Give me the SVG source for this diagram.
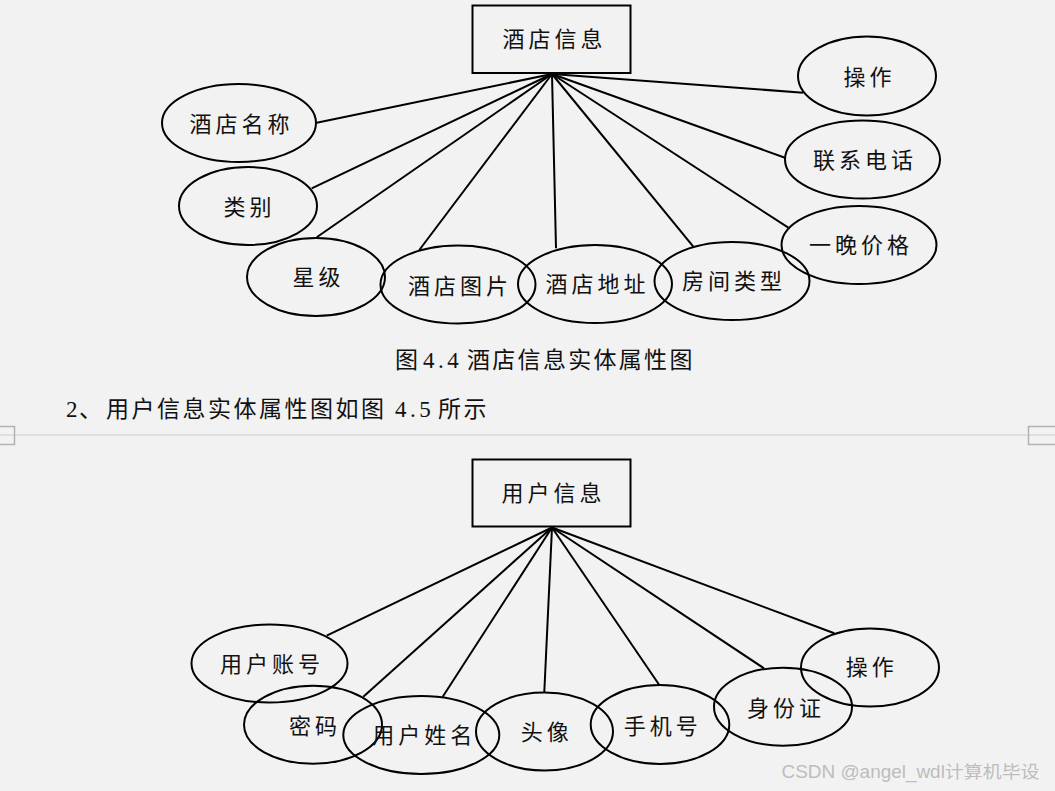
<svg xmlns="http://www.w3.org/2000/svg" width="1055" height="791" viewBox="0 0 1055 791">
<style>
.bg{fill:#f2f2f2}
.ent{fill:none;stroke:#000;stroke-width:2}
.att{fill:none;stroke:#000;stroke-width:2}
.lbl{font-family:"Noto Sans CJK SC","Noto Sans CJK JP",sans-serif;font-size:22px;letter-spacing:4px;text-anchor:middle;fill:#111}
.cap{font-family:"Liberation Serif","Noto Sans CJK SC",serif;font-size:23px;fill:#111}
.cjk{font-family:"Noto Sans CJK SC",sans-serif}
.conn line{stroke:#000;stroke-width:2}
.wm{font-family:"Liberation Sans","Noto Sans CJK SC",sans-serif;font-size:17.5px;fill:#bdbdbd}
</style>
<rect class="bg" x="0" y="0" width="1055" height="791"/>

<!-- page separator -->
<g id="separator">
<line x1="0" y1="435" x2="1055" y2="435" stroke="#d9d9d9" stroke-width="1.5"/>
<path d="M0 426.5 H14.5 V444.5 H0" fill="none" stroke="#b2b2b2" stroke-width="1.5"/>
<path d="M1055 426.5 H1028.5 V444.5 H1055" fill="none" stroke="#b2b2b2" stroke-width="1.5"/>
</g>

<!-- connectors -->
<g id="connectors" class="conn">
<line x1="552" y1="74" x2="316.7" y2="122.7"/>
<line x1="552" y1="74" x2="311.7" y2="188.3"/>
<line x1="552" y1="74" x2="316.7" y2="237.3"/>
<line x1="552" y1="74" x2="419.3" y2="250"/>
<line x1="552" y1="74" x2="556" y2="248.3"/>
<line x1="552" y1="74" x2="693.3" y2="246.7"/>
<line x1="552" y1="74" x2="788.3" y2="227.7"/>
<line x1="552" y1="74" x2="785" y2="157.7"/>
<line x1="552" y1="74" x2="803.3" y2="92.7"/>
<line x1="552" y1="527.5" x2="326.7" y2="635.7"/>
<line x1="552" y1="527.5" x2="363.3" y2="696.7"/>
<line x1="552" y1="527.5" x2="442.7" y2="696.7"/>
<line x1="552" y1="527.5" x2="544.3" y2="692"/>
<line x1="552" y1="527.5" x2="659.3" y2="685"/>
<line x1="552" y1="527.5" x2="764" y2="668.3"/>
<line x1="552" y1="527.5" x2="834.3" y2="633.3"/>
</g>

<!-- top diagram -->
<g id="hotel-info"><rect class="ent" x="472.5" y="5.5" width="158" height="67.5"/><text class="lbl" x="554.5" y="47">酒店信息</text></g>
<g id="hotel-name"><ellipse class="att" cx="239" cy="123" rx="77" ry="39"/><text class="lbl" x="241.5" y="131.5">酒店名称</text></g>
<g id="hotel-type"><ellipse class="att" cx="248" cy="206" rx="69" ry="39"/><text class="lbl" x="249.5" y="214.5">类别</text></g>
<g id="hotel-star"><ellipse class="att" cx="316" cy="277" rx="69" ry="39"/><text class="lbl" x="318.5" y="285">星级</text></g>
<g id="hotel-pic"><ellipse class="att" cx="458" cy="284.5" rx="77.5" ry="39"/><text class="lbl" x="460" y="293.5">酒店图片</text></g>
<g id="hotel-addr"><ellipse class="att" cx="595" cy="284" rx="77" ry="39"/><text class="lbl" x="597.5" y="292">酒店地址</text></g>
<g id="room-type"><ellipse class="att" cx="732" cy="281" rx="77.5" ry="39"/><text class="lbl" x="734" y="289">房间类型</text></g>
<g id="night-price"><ellipse class="att" cx="859" cy="245" rx="77.5" ry="39"/><text class="lbl" x="861" y="253">一晚价格</text></g>
<g id="phone"><ellipse class="att" cx="862.5" cy="159.5" rx="77.5" ry="39"/><text class="lbl" x="865" y="167.5">联系电话</text></g>
<g id="hotel-op"><ellipse class="att" cx="867" cy="76" rx="69" ry="39.5"/><text class="lbl" x="869.5" y="84.5">操作</text></g>

<!-- captions -->
<text class="cap" y="368"><tspan class="cjk" x="395">图</tspan><tspan x="423" letter-spacing="3.5">4.4</tspan><tspan class="cjk" x="467" letter-spacing="2.3">酒店信息实体属性图</tspan></text>
<text class="cap" y="417"><tspan x="66">2</tspan><tspan class="cjk" x="79">、</tspan><tspan class="cjk" x="106" letter-spacing="2.5">用户信息实体属性图如图</tspan><tspan x="395" letter-spacing="3.5">4.5</tspan><tspan class="cjk" x="438" letter-spacing="2.5">所示</tspan></text>

<!-- bottom diagram -->
<g id="user-info"><rect class="ent" x="472.5" y="459.5" width="158" height="67"/><text class="lbl" x="553.5" y="501">用户信息</text></g>
<g id="user-account"><ellipse class="att" cx="269.5" cy="663.5" rx="78" ry="39"/><text class="lbl" x="272" y="672">用户账号</text></g>
<g id="user-pwd"><ellipse class="att" cx="313" cy="724.7" rx="69" ry="39"/><text class="lbl" x="315" y="733.5">密码</text></g>
<g id="user-name"><ellipse class="att" cx="421.3" cy="735" rx="78" ry="39"/><text class="lbl" x="424.3" y="743">用户姓名</text></g>
<g id="user-avatar"><ellipse class="att" cx="544.5" cy="731.5" rx="68.5" ry="39"/><text class="lbl" x="546.7" y="740">头像</text></g>
<g id="user-mobile"><ellipse class="att" cx="660" cy="724.5" rx="69.3" ry="39.5"/><text class="lbl" x="662.7" y="733.5">手机号</text></g>
<g id="user-id"><ellipse class="att" cx="783" cy="706.7" rx="69" ry="39"/><text class="lbl" x="786" y="715.5">身份证</text></g>
<g id="user-op"><ellipse class="att" cx="870" cy="667.5" rx="69" ry="39"/><text class="lbl" x="871.7" y="674.5">操作</text></g>

<text class="wm" x="781.5" y="778" textLength="258" lengthAdjust="spacingAndGlyphs">CSDN @angel_wdl计算机毕设</text>
</svg>
